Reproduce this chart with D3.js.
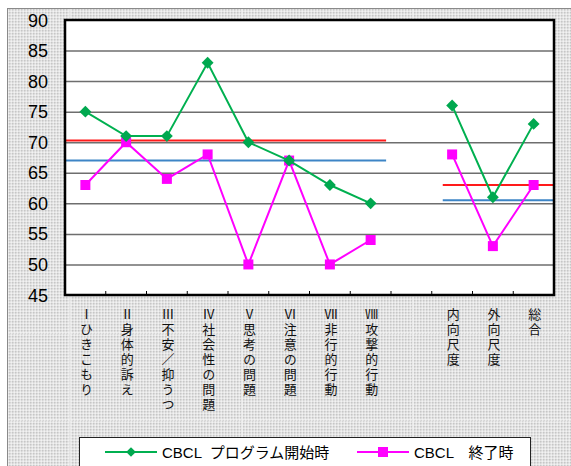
<!DOCTYPE html>
<html>
<head>
<meta charset="utf-8">
<script src="https://cdn.jsdelivr.net/npm/d3@7"></script>
<style>
  body { margin: 0; background: #fff; }
  svg { display: block; }
</style>
</head>
<body>
<script>
// chart data
const categories = ["Ⅰひきこもり", "Ⅱ身体的訴え", "Ⅲ不安／抑うつ", "Ⅳ社会性の問題",
    "Ⅴ思考の問題", "Ⅵ注意の問題", "Ⅶ非行的行動", "Ⅷ攻撃的行動",
    "", "内向尺度", "外向尺度", "総合"];
const startValues = [75, 71, 71, 83, 70, 67, 63, 60, null, 76, 61, 73];
const endValues = [63, 70, 64, 68, 50, 67, 50, 54, null, 68, 53, 63];
const seriesNames = ["CBCL  プログラム開始時", "CBCL　終了時"];
const yTicks = [45, 50, 55, 60, 65, 70, 75, 80, 85, 90];
// reference lines (x given in category units)
const redLines = [{from: 0, to: 7.88, value: 70.3}, {from: 9.27, to: 12, value: 63}];
const blueLines = [{from: 0, to: 7.88, value: 67}, {from: 9.27, to: 12, value: 60.5}];

const width = 571;
const height = 466;
const plotLeft = 65, plotRight = 554, plotTop = 20, plotBottom = 295;
let svg, x, xu, y;

createChart();

function createChart(){
    svg = d3.select('body').append('svg')
        .attr('width', width)
        .attr('height', height);

    // dotted excel-like background
    const defs = svg.append('defs');
    const pat = defs.append('pattern')
        .attr('id', 'dots')
        .attr('width', 3).attr('height', 3)
        .attr('patternUnits', 'userSpaceOnUse');
    pat.append('rect').attr('width', 3).attr('height', 3).attr('fill', '#e4e4e4');
    pat.append('rect').attr('width', 1.5).attr('height', 1.5).attr('fill', '#c6c6c6');
    pat.append('rect').attr('x', 1.5).attr('y', 1.5).attr('width', 1.5).attr('height', 1.5).attr('fill', '#f2f2f2');

    svg.append('rect')
        .attr('x', 7.5).attr('y', 8.5)
        .attr('width', width).attr('height', height)
        .attr('fill', 'url(#dots)')
        .attr('stroke', '#8a8a8a');

    // faint sheet cell lines
    [333, 420].forEach(v => svg.append('line')
        .attr('x1', 8).attr('x2', width).attr('y1', v).attr('y2', v)
        .attr('stroke', '#f4f4f4').attr('stroke-dasharray', '2,1'));
    [70, 242, 413].forEach(v => svg.append('line')
        .attr('x1', v).attr('x2', v).attr('y1', 9).attr('y2', height)
        .attr('stroke', '#f4f4f4').attr('stroke-dasharray', '2,1'));

    x = d3.scaleBand().domain(d3.range(categories.length)).range([plotLeft, plotRight]);
    xu = d3.scaleLinear().domain([0, categories.length]).range([plotLeft, plotRight]);
    y = d3.scaleLinear().domain([45, 90]).range([plotBottom, plotTop]);

    svg.append('rect')
        .attr('x', plotLeft).attr('y', plotTop)
        .attr('width', plotRight - plotLeft).attr('height', plotBottom - plotTop)
        .attr('fill', '#fff');

    // gridlines
    svg.append('g')
        .selectAll('line')
        .data(yTicks.slice(1, -1))
        .join('line')
        .attr('x1', plotLeft).attr('x2', plotRight)
        .attr('y1', d => y(d) + 0.5).attr('y2', d => y(d) + 0.5)
        .attr('stroke', '#6e6e6e')
        .attr('stroke-width', 1.5);

    // y labels
    svg.append('g')
        .selectAll('text')
        .data(yTicks)
        .join('text')
        .attr('x', 48)
        .attr('y', d => y(d) + 6.5)
        .attr('text-anchor', 'end')
        .style('font-family', '"Liberation Sans", Arial, sans-serif')
        .style('font-size', '18px')
        .text(d => d);

    // x ticks
    svg.append('g')
        .selectAll('line')
        .data(d3.range(1, categories.length))
        .join('line')
        .attr('x1', d => xu(d)).attr('x2', d => xu(d))
        .attr('y1', plotBottom).attr('y2', plotBottom - 4)
        .attr('stroke', '#000');

    // vertical category labels
    svg.append('g')
        .style('font-family', '"Noto Sans CJK JP", sans-serif')
        .style('font-size', '13px')
        .style('writing-mode', 'vertical-rl')
        .style('text-orientation', 'upright')
        .style('letter-spacing', '2px')
        .attr('fill', '#111')
        .selectAll('text')
        .data(categories)
        .join('text')
        .attr('x', (d, i) => x(i) + x.bandwidth() / 2 + 1)
        .attr('y', 308)
        .text(d => d);

    // reference lines
    const refs = svg.append('g');
    refs.selectAll('.red')
        .data(redLines)
        .join('line')
        .attr('x1', d => xu(d.from)).attr('x2', d => xu(d.to))
        .attr('y1', d => y(d.value)).attr('y2', d => y(d.value))
        .attr('stroke', '#ff1a1a').attr('stroke-width', 2);
    refs.selectAll('.blue')
        .data(blueLines)
        .join('line')
        .attr('x1', d => xu(d.from)).attr('x2', d => xu(d.to))
        .attr('y1', d => y(d.value)).attr('y2', d => y(d.value))
        .attr('stroke', '#3d85c6').attr('stroke-width', 2);

    // plot border
    svg.append('rect')
        .attr('x', plotLeft).attr('y', plotTop)
        .attr('width', plotRight - plotLeft).attr('height', plotBottom - plotTop)
        .attr('fill', 'none')
        .attr('stroke', '#000')
        .attr('stroke-width', 2.5);

    const cx = i => x(i) + x.bandwidth() / 2;
    const line = d3.line()
        .defined(d => d != null)
        .x((d, i) => cx(i))
        .y(d => y(d));

    // end series (magenta)
    svg.append('path')
        .attr('d', line(endValues))
        .attr('fill', 'none')
        .attr('stroke', '#ff00ff')
        .attr('stroke-width', 2);
    svg.append('g')
        .selectAll('rect')
        .data(endValues.map((v, i) => [v, i]).filter(d => d[0] != null))
        .join('rect')
        .attr('x', d => cx(d[1]) - 5).attr('y', d => y(d[0]) - 5)
        .attr('width', 10).attr('height', 10)
        .attr('fill', '#ff00ff');

    // start series (green)
    svg.append('path')
        .attr('d', line(startValues))
        .attr('fill', 'none')
        .attr('stroke', '#00b050')
        .attr('stroke-width', 2);
    const diamond = d3.symbol().type(d3.symbolDiamond2).size(90);
    svg.append('g')
        .selectAll('path')
        .data(startValues.map((v, i) => [v, i]).filter(d => d[0] != null))
        .join('path')
        .attr('d', diamond)
        .attr('transform', d => 'translate(' + cx(d[1]) + ',' + y(d[0]) + ')')
        .attr('fill', '#00a84f');

    createLegend();
}

function createLegend(){
    const legend = svg.append('g');
    legend.append('rect')
        .attr('x', 79.5).attr('y', 437.5)
        .attr('width', 451).attr('height', 40)
        .attr('fill', '#fff')
        .attr('stroke', '#222');
    const ly = 452;
    const items = [
        {x: 105, color: '#00b050', shape: 'diamond', name: seriesNames[0]},
        {x: 357, color: '#ff00ff', shape: 'square', name: seriesNames[1]}
    ];
    items.forEach(it => {
        legend.append('line')
            .attr('x1', it.x).attr('x2', it.x + 52)
            .attr('y1', ly).attr('y2', ly)
            .attr('stroke', it.color).attr('stroke-width', 2);
        if (it.shape == 'diamond') {
            legend.append('path')
                .attr('d', d3.symbol().type(d3.symbolDiamond2).size(60)())
                .attr('transform', 'translate(' + (it.x + 26) + ',' + ly + ')')
                .attr('fill', '#00a84f');
        } else {
            legend.append('rect')
                .attr('x', it.x + 21).attr('y', ly - 5)
                .attr('width', 10).attr('height', 10)
                .attr('fill', it.color);
        }
        legend.append('text')
            .attr('x', it.x + 57)
            .attr('y', ly + 5.5)
            .style('font-family', '"Liberation Sans", "Noto Sans CJK JP", sans-serif')
            .style('font-size', '15px')
            .style('white-space', 'pre')
            .text(it.name);
    });
}
</script>
</body>
</html>
